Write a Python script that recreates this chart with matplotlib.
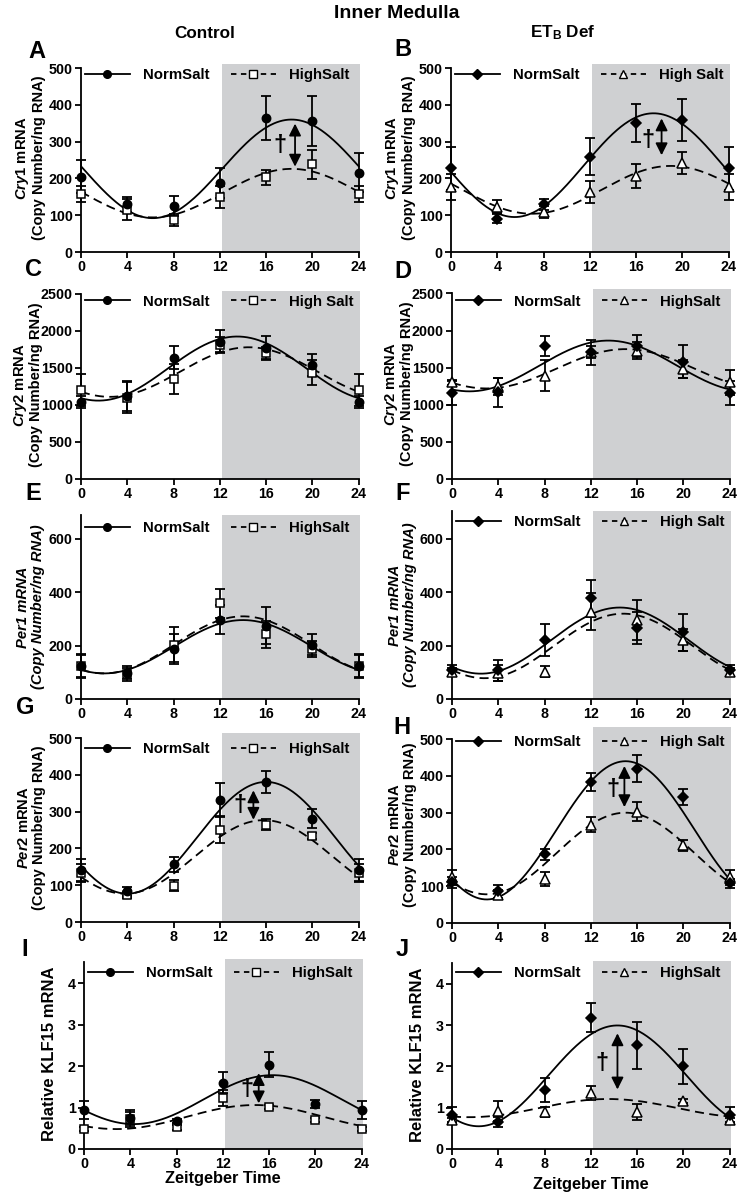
import numpy as np
import matplotlib
matplotlib.use("Agg")
import matplotlib.pyplot as plt
from matplotlib.lines import Line2D

plt.rcParams['font.family'] = ['Liberation Sans', 'DejaVu Sans']
plt.rcParams['font.weight'] = 'bold'
plt.rcParams['mathtext.fontset'] = 'custom'
plt.rcParams['mathtext.rm'] = 'Liberation Sans:bold'
plt.rcParams['mathtext.it'] = 'Liberation Sans:bold:italic'
plt.rcParams['mathtext.bf'] = 'Liberation Sans:bold'

# ---------------- data ----------------
zt = [0, 4, 8, 12, 16, 20, 24]
xticks = [0, 4, 8, 12, 16, 20, 24]

# A: Cry1 control
cry1_ctrl_norm = [205, 130, 126, 188, 365, 356, 216]
cry1_ctrl_norm_err = [45, 20, 27, 40, 60, 68, 54]
cry1_ctrl_high = [157, 115, 87, 150, 203, 238, 157]
cry1_ctrl_high_err = [22, 28, 15, 30, 20, 40, 22]
cry1_ctrl_norm_fit = [226, 134, 18.2]   # mesor, amplitude, acrophase
cry1_ctrl_high_fit = [160, 66, 18.2]
# B: Cry1 ETB def
cry1_etb_norm = [227, 91, 130, 259, 351, 358, 227]
cry1_etb_norm_err = [58, 12, 15, 50, 52, 57, 58]
cry1_etb_high = [177, 123, 108, 164, 207, 241, 177]
cry1_etb_high_err = [35, 17, 16, 30, 33, 30, 35]
cry1_etb_norm_fit = [236, 141, 17.5]
cry1_etb_high_fit = [169, 65, 19.0]
# C: Cry2 control
cry2_ctrl_norm = [1035, 1125, 1640, 1857, 1776, 1541, 1035]
cry2_ctrl_norm_err = [80, 200, 160, 150, 160, 150, 80]
cry2_ctrl_high = [1202, 1098, 1351, 1812, 1699, 1437, 1202]
cry2_ctrl_high_err = [220, 210, 200, 100, 90, 170, 220]
cry2_ctrl_norm_fit = [1492, 433, 13.5]
cry2_ctrl_high_fit = [1445, 335, 14.5]
# D: Cry2 ETB def
cry2_etb_norm = [1158, 1167, 1793, 1707, 1788, 1581, 1158]
cry2_etb_norm_err = [160, 200, 140, 80, 150, 220, 160]
cry2_etb_high = [1302, 1248, 1392, 1707, 1730, 1482, 1302]
cry2_etb_high_err = [30, 110, 210, 170, 110, 120, 170]
cry2_etb_norm_fit = [1523, 342, 13.5]
cry2_etb_high_fit = [1485, 265, 15.0]
# E: Per1 control
per1_ctrl_norm = [124, 99, 187, 298, 275, 204, 124]
per1_ctrl_norm_err = [45, 25, 55, 55, 70, 40, 45]
per1_ctrl_high = [124, 93, 204, 359, 242, 187, 124]
per1_ctrl_high_err = [40, 25, 65, 55, 50, 30, 40]
per1_ctrl_norm_fit = [196, 100, 14.0]
per1_ctrl_high_fit = [203, 107, 14.0]
# F: Per1 ETB def
per1_etb_norm = [108, 108, 221, 377, 265, 250, 108]
per1_etb_norm_err = [20, 40, 60, 70, 60, 70, 20]
per1_etb_high = [102, 98, 102, 327, 296, 221, 102]
per1_etb_high_err = [15, 30, 20, 70, 75, 40, 15]
per1_etb_norm_fit = [219, 124, 14.5]
per1_etb_high_fit = [199, 121, 14.8]
# G: Per2 control
per2_ctrl_norm = [142, 83, 157, 332, 380, 281, 142]
per2_ctrl_norm_err = [30, 12, 20, 45, 30, 25, 30]
per2_ctrl_high = [134, 74, 98, 251, 265, 234, 134]
per2_ctrl_high_err = [25, 8, 15, 35, 15, 8, 25]
per2_ctrl_norm_fit = [229, 152, 16.0]
per2_ctrl_high_fit = [177, 100, 15.8]
# H: Per2 ETB def
per2_etb_norm = [111, 86, 187, 384, 420, 343, 108]
per2_etb_norm_err = [15, 18, 15, 25, 37, 22, 12]
per2_etb_high = [124, 77, 120, 267, 303, 211, 124]
per2_etb_high_err = [20, 12, 20, 20, 25, 15, 20]
per2_etb_norm_fit = [252, 188, 15.0]
per2_etb_high_fit = [189, 111, 15.0]
# I: KLF15 control
klf_ctrl_norm = [0.94, 0.74, 0.68, 1.60, 2.03, 1.09, 0.94]
klf_ctrl_norm_err = [0.22, 0.20, 0.05, 0.25, 0.30, 0.10, 0.22]
klf_ctrl_high = [0.48, 0.73, 0.52, 1.23, 1.01, 0.70, 0.48]
klf_ctrl_high_err = [0.05, 0.15, 0.05, 0.20, 0.05, 0.05, 0.05]
klf_ctrl_norm_fit = [1.19, 0.59, 16.3]
klf_ctrl_high_fit = [0.77, 0.29, 14.8]
# J: KLF15 ETB def
klf_etb_norm = [0.82, 0.66, 1.43, 3.18, 2.51, 2.00, 0.82]
klf_etb_norm_err = [0.20, 0.12, 0.30, 0.36, 0.57, 0.42, 0.20]
klf_etb_high = [0.70, 0.92, 0.90, 1.35, 0.90, 1.16, 0.70]
klf_etb_high_err = [0.05, 0.25, 0.12, 0.17, 0.20, 0.05, 0.05]
klf_etb_norm_fit = [1.77, 1.22, 14.3]
klf_etb_high_fit = [0.99, 0.22, 13.5]

# significance arrows: (x, y_top, y_bottom), dagger (x, y)
arrow_A = [18.5, 349, 232]; dagger_A = [17.2, 290]
arrow_B = [18.2, 363, 263]; dagger_B = [17.0, 304]
arrow_G = [14.9, 358, 278]; dagger_G = [13.7, 317]
arrow_H = [14.9, 427, 315]; dagger_H = [13.9, 362]
arrow_I = [15.1, 1.83, 1.10]; dagger_I = [14.1, 1.43]
arrow_J = [14.3, 2.80, 1.44]; dagger_J = [13.0, 2.07]

# ---------------- figure ----------------
W, H = 740, 1197
fig = plt.figure(figsize=(W / 100, H / 100), dpi=100)
SHADE = '#cfd0d2'

def add_ax(left_px, zero_px, top_px):
    return fig.add_axes([left_px / W, 1 - zero_px / H, 280 / W, (zero_px - top_px) / H])

lab_cry1 = "$\\mathit{Cry1}$ mRNA\n(Copy Number/ng RNA)"
lab_cry2 = "$\\mathit{Cry2}$ mRNA\n(Copy Number/ng RNA)"
lab_per1 = "Per1 mRNA\n(Copy Number/ng RNA)"
lab_per2 = "$\\mathit{Per2}$ mRNA\n(Copy Number/ng RNA)"
lab_klf = "Relative KLF15 mRNA"

panels = [
    dict(L='A', left=81, zero=252, top=64, ytop=511, stop=500, yt=[0, 100, 200, 300, 400, 500],
         n=cry1_ctrl_norm, ne=cry1_ctrl_norm_err, h=cry1_ctrl_high, he=cry1_ctrl_high_err,
         nf=cry1_ctrl_norm_fit, hf=cry1_ctrl_high_fit, nm='o', hm='s', hl='HighSalt',
         yl=lab_cry1, it=False, lx=-0.125, ar=arrow_A, dg=dagger_A, lpos=(37, 52), ly=0),
    dict(L='B', left=451, zero=252, top=64, ytop=511, stop=500, yt=[0, 100, 200, 300, 400, 500],
         n=cry1_etb_norm, ne=cry1_etb_norm_err, h=cry1_etb_high, he=cry1_etb_high_err,
         nf=cry1_etb_norm_fit, hf=cry1_etb_high_fit, nm='D', hm='^', hl='High Salt',
         yl=lab_cry1, it=False, lx=-0.125, ar=arrow_B, dg=dagger_B, lpos=(403, 50), ly=0),
    dict(L='C', left=81, zero=479, top=291, ytop=2540, stop=2500, yt=[0, 500, 1000, 1500, 2000, 2500],
         n=cry2_ctrl_norm, ne=cry2_ctrl_norm_err, h=cry2_ctrl_high, he=cry2_ctrl_high_err,
         nf=cry2_ctrl_norm_fit, hf=cry2_ctrl_high_fit, nm='o', hm='s', hl='High Salt',
         yl=lab_cry2, it=False, lx=-0.135, ar=None, dg=None, lpos=(33, 270), ly=0),
    dict(L='D', left=452, zero=479, top=289, ytop=2560, stop=2500, yt=[0, 500, 1000, 1500, 2000, 2500],
         n=cry2_etb_norm, ne=cry2_etb_norm_err, h=cry2_etb_high, he=cry2_etb_high_err,
         nf=cry2_etb_norm_fit, hf=cry2_etb_high_fit, nm='D', hm='^', hl='HighSalt',
         yl=lab_cry2, it=False, lx=-0.135, ar=None, dg=None, lpos=(403, 272), ly=2),
    dict(L='E', left=81, zero=699, top=515, ytop=690, stop=690, yt=[0, 200, 400, 600],
         n=per1_ctrl_norm, ne=per1_ctrl_norm_err, h=per1_ctrl_high, he=per1_ctrl_high_err,
         nf=per1_ctrl_norm_fit, hf=per1_ctrl_high_fit, nm='o', hm='s', hl='HighSalt',
         yl=lab_per1, it=True, lx=-0.13, ar=None, dg=None, lpos=(33, 493), ly=2),
    dict(L='F', left=452, zero=699, top=511, ytop=705, stop=705, yt=[0, 200, 400, 600],
         n=per1_etb_norm, ne=per1_etb_norm_err, h=per1_etb_high, he=per1_etb_high_err,
         nf=per1_etb_norm_fit, hf=per1_etb_high_fit, nm='D', hm='^', hl='High Salt',
         yl=lab_per1, it=True, lx=-0.125, ar=None, dg=None, lpos=(403, 493), ly=0),
    dict(L='G', left=81, zero=922, top=733, ytop=514, stop=500, yt=[0, 100, 200, 300, 400, 500],
         n=per2_ctrl_norm, ne=per2_ctrl_norm_err, h=per2_ctrl_high, he=per2_ctrl_high_err,
         nf=per2_ctrl_norm_fit, hf=per2_ctrl_high_fit, nm='o', hm='s', hl='HighSalt',
         yl=lab_per2, it=False, lx=-0.125, ar=arrow_G, dg=dagger_G, lpos=(25, 708), ly=5),
    dict(L='H', left=452, zero=923, top=727, ytop=533, stop=500, yt=[0, 100, 200, 300, 400, 500],
         n=per2_etb_norm, ne=per2_etb_norm_err, h=per2_etb_high, he=per2_etb_high_err,
         nf=per2_etb_norm_fit, hf=per2_etb_high_fit, nm='D', hm='^', hl='High Salt',
         yl=lab_per2, it=False, lx=-0.125, ar=arrow_H, dg=dagger_H, lpos=(402, 727), ly=4),
    dict(L='I', left=84, zero=1149, top=959, ytop=4.58, stop=4.5, yt=[0, 1, 2, 3, 4],
         n=klf_ctrl_norm, ne=klf_ctrl_norm_err, h=klf_ctrl_high, he=klf_ctrl_high_err,
         nf=klf_ctrl_norm_fit, hf=klf_ctrl_high_fit, nm='o', hm='s', hl='HighSalt',
         yl=lab_klf, it=False, lx=-0.097, ar=arrow_I, dg=dagger_I, lpos=(25, 950), ly=3),
    dict(L='J', left=452, zero=1149, top=961, ytop=4.55, stop=4.5, yt=[0, 1, 2, 3, 4],
         n=klf_etb_norm, ne=klf_etb_norm_err, h=klf_etb_high, he=klf_etb_high_err,
         nf=klf_etb_norm_fit, hf=klf_etb_high_fit, nm='D', hm='^', hl='HighSalt',
         yl=lab_klf, it=False, lx=-0.097, ar=arrow_J, dg=dagger_J, lpos=(402, 950), ly=1),
]

tt = np.linspace(0, 24, 300)
LW = 1.3

for p in panels:
    ax = add_ax(p['left'], p['zero'], p['top'])
    ax.set_xlim(0, 24.2)
    ax.set_ylim(0, p['ytop'])
    ax.axvspan(12.2, 24.1, color=SHADE, lw=0, zorder=0)
    for side in ('top', 'right'):
        ax.spines[side].set_visible(False)
    ax.spines['left'].set_bounds(0, p['stop'])
    ax.spines['bottom'].set_bounds(0, 24)
    for side in ('left', 'bottom'):
        ax.spines[side].set_linewidth(LW)
        ax.spines[side].set_zorder(1)
    ax.set_xticks(xticks)
    ax.set_yticks(p['yt'])
    ax.tick_params(direction='out', length=4, width=LW, labelsize=10.3, pad=2)
    for lab in ax.get_xticklabels() + ax.get_yticklabels():
        lab.set_fontweight('bold')

    # fitted cosinor curves
    for fit, ls in ((p['nf'], '-'), (p['hf'], (0, (5, 3)))):
        mes, amp, acro = fit
        ax.plot(tt, mes + amp * np.cos(2 * np.pi * (tt - acro) / 24), color='k', lw=LW, ls=ls, zorder=3)

    # error bars and markers
    for vals, errs, mk, fc, ms in ((p['h'], p['he'], p['hm'], 'white', 6.5 if p['hm'] == '^' else 6),
                                   (p['n'], p['ne'], p['nm'], 'black', 5.5 if p['nm'] == 'D' else 6)):
        ax.errorbar(zt, vals, yerr=errs, fmt='none', ecolor='k', elinewidth=LW, capsize=3.5,
                    capthick=LW, clip_on=False, zorder=4)
        ax.plot(zt, vals, ls='none', marker=mk, ms=ms, mfc=fc, mec='k', mew=1.1, clip_on=False, zorder=5)

    # legend
    handles = [Line2D([0], [0], color='k', lw=LW, marker=p['nm'], ms=5.5, mfc='k', mec='k'),
               Line2D([0], [0], color='k', lw=LW, ls=(0, (3, 2.5)), marker=p['hm'], ms=5.5, mfc='white', mec='k', mew=1.0)]
    hax = p['zero'] - p['top']
    ax.legend(handles, ['NormSalt', p['hl']], loc='upper left', bbox_to_anchor=(0.0, 1.0 - p['ly'] / hax), ncol=2,
              frameon=False, handlelength=3.0, handletextpad=0.9, columnspacing=1.4, borderpad=0.25,
              borderaxespad=0.0, prop={'size': 10.8, 'weight': 'bold'})

    # y label
    ax.set_ylabel(p['yl'], fontsize=12 if p['L'] in 'IJ' else 10.6, fontweight='bold',
                  style='italic' if p['it'] else 'normal', linespacing=1.05)
    ax.yaxis.set_label_coords(p['lx'], 0.5)

    # significance arrow
    if p['ar'] is not None:
        x, y1, y2 = p['ar']
        ax.annotate('', xy=(x, y1), xytext=(x, y2),
                    arrowprops=dict(arrowstyle='<|-|>', color='k', lw=LW, mutation_scale=18,
                                    shrinkA=0, shrinkB=0), zorder=6)
        dx, dy = p['dg']
        ax.text(dx, dy, '\u2020', ha='center', va='center', fontsize=17, fontweight='bold', zorder=6)

    # panel letter
    fig.text(p['lpos'][0] / W, 1 - p['lpos'][1] / H, p['L'], ha='center', va='center',
             fontsize=17, fontweight='bold')

# titles
fig.text(397 / W, 1 - 14 / H, 'Inner Medulla', ha='center', va='center', fontsize=14, fontweight='bold')
fig.text(205 / W, 1 - 33 / H, 'Control', ha='center', va='center', fontsize=12.3, fontweight='bold')
fig.text(563 / W, 1 - 33 / H, 'ET$_\\mathrm{B}$ Def', ha='center', va='center', fontsize=12.3, fontweight='bold')
fig.text(223 / W, 1 - 1179 / H, 'Zeitgeber Time', ha='center', va='center', fontsize=11.8, fontweight='bold')
fig.text(591 / W, 1 - 1185 / H, 'Zeitgeber Time', ha='center', va='center', fontsize=11.8, fontweight='bold')

fig.savefig('out.png', dpi=100, facecolor='white')
